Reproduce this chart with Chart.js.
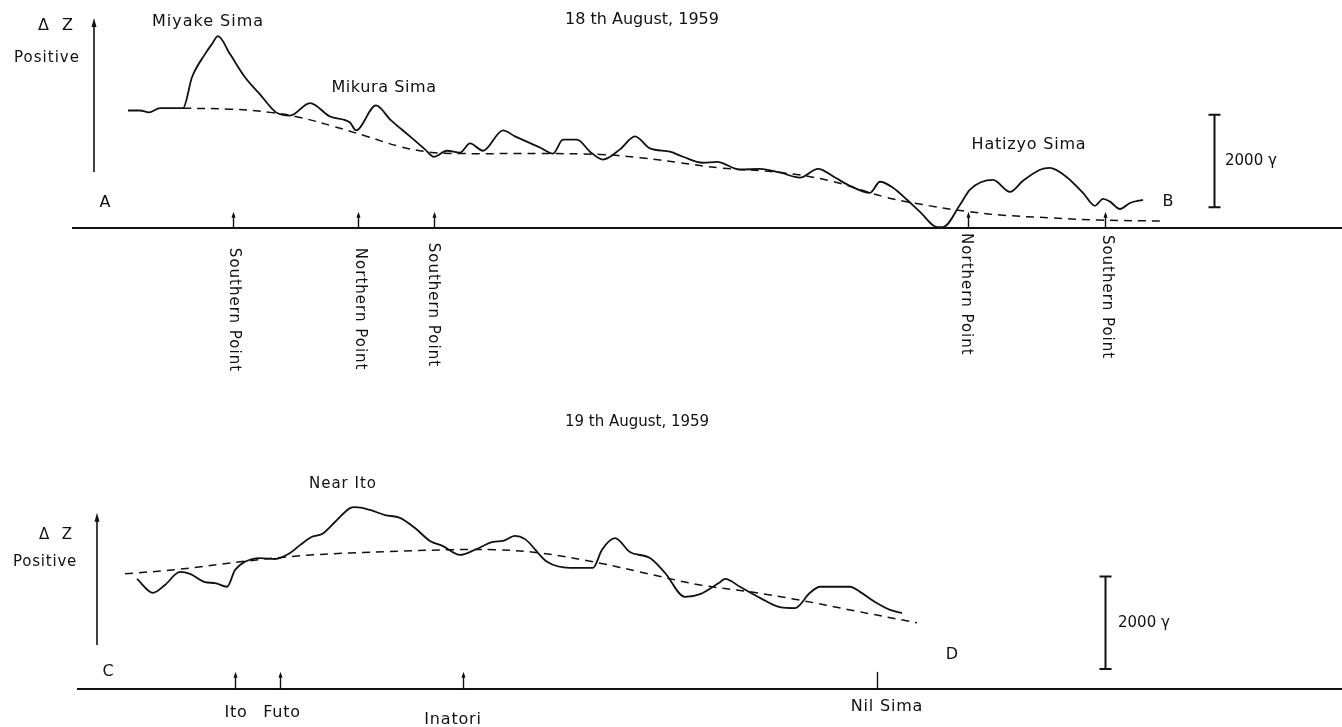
<!DOCTYPE html>
<html>
<head>
<meta charset="utf-8">
<title>ΔZ profiles, August 1959</title>
<script src="https://cdn.jsdelivr.net/npm/chart.js@4.4.1/dist/chart.umd.min.js"></script>
<style>
  html, body { margin: 0; background: #fff; }
  #wrap { position: relative; width: 1342px; height: 727px; overflow: hidden; }
  canvas { position: absolute; left: 0; }
  #perfilAB { top: 0; }
  #perfilCD { top: 400px; }
</style>
</head>
<body>
<div id="wrap">
  <canvas id="perfilAB" width="1342" height="400"></canvas>
  <canvas id="perfilCD" width="1342" height="327"></canvas>
</div>
<script>
// distance along track (arbitrary units), ΔZ in gamma
const DIST_MAX = 134.2;
const INK = '#111';
const FONT = '"DejaVu Sans", sans-serif';

// ---- 18 th August 1959 : A -> B ----
const distAB = [12.8, 14.0, 14.9, 16.0, 18.3, 19.2, 20.5, 21.2, 21.8, 23.0, 24.5, 26.0, 27.6, 29.0, 31.0,
  33.0, 35.0, 35.6, 37.6, 39.0, 41.0, 42.5, 43.4, 44.7, 46.0, 47.0, 48.3, 50.3, 51.5, 54.0, 55.3, 56.3,
  57.7, 59.0, 60.3, 62.0, 63.5, 65.0, 67.0, 68.3, 70.3, 71.7, 74.0, 76.0, 78.0, 80.0, 81.8, 83.5, 85.0,
  87.0, 88.0, 89.3, 90.7, 92.0, 93.7, 94.3, 96.0, 97.0, 99.3, 101.0, 102.3, 104.0, 105.0, 106.5, 108.3,
  109.5, 110.3, 111.0, 112.0, 113.0, 114.3];
const dzAB = [2540, 2540, 2500, 2590, 2590, 3260, 3760, 3980, 4150, 3760, 3260, 2890, 2500, 2430, 2700,
  2410, 2280, 2110, 2650, 2350, 1980, 1700, 1540, 1670, 1630, 1830, 1670, 2110, 1980, 1740, 1610, 1910,
  1910, 1650, 1480, 1700, 1980, 1720, 1650, 1540, 1410, 1430, 1260, 1280, 1200, 1090, 1280, 1090, 910,
  760, 1000, 870, 610, 350, 20, 20, 500, 830, 1040, 780, 1020, 1260, 1300, 1130, 760,
  480, 630, 570, 410, 540, 610];
const trendDistAB = [18.3, 23.0, 27.0, 30.0, 33.3, 36.7, 40.0, 43.0, 46.0, 54.0, 60.0, 64.0, 68.0, 72.0,
  78.0, 83.0, 88.5, 93.5, 97.0, 100.0, 105.0, 110.0, 116.3];
const trendAB = [2590, 2570, 2500, 2390, 2200, 1980, 1760, 1640, 1610, 1610, 1590, 1520, 1410, 1300,
  1200, 1020, 670, 460, 350, 280, 220, 170, 150];
const marksAB = [23.3, 35.8, 43.4, 96.8, 110.5];
const markNamesAB = ['Southern Point', 'Northern Point', 'Southern Point', 'Northern Point', 'Southern Point'];

// ---- 19 th August 1959 : C -> D ----
const distCD = [13.7, 15.3, 16.5, 18.0, 19.0, 20.5, 21.5, 22.7, 23.5, 24.5, 26.0, 27.5, 29.0, 30.0, 31.2,
  32.2, 33.5, 35.0, 35.5, 37.0, 38.5, 40.0, 41.5, 43.0, 44.3, 46.0, 47.5, 49.3, 50.3, 51.5, 52.5, 54.7,
  57.0, 59.3, 60.2, 61.5, 63.0, 65.0, 66.5, 68.5, 70.0, 72.0, 72.5, 74.0, 76.0, 78.0, 79.5, 81.0, 82.0,
  85.0, 86.0, 87.5, 89.0, 90.2];
const dzCD = [2380, 2080, 2250, 2530, 2490, 2310, 2290, 2210, 2570, 2750, 2830, 2810, 2940, 3110, 3290,
  3350, 3610, 3910, 3930, 3870, 3760, 3700, 3480, 3200, 3090, 2900, 3010, 3180, 3200, 3310, 3240, 2750,
  2620, 2620, 3010, 3260, 2960, 2830, 2510, 1990, 2050, 2310, 2380, 2210, 1970, 1770, 1750, 2080, 2210,
  2210, 2100, 1880, 1710, 1640];
const trendDistCD = [12.5, 18.0, 24.0, 30.0, 35.0, 40.0, 45.0, 49.5, 54.0, 60.0, 64.0, 70.0, 75.0, 80.0, 85.0, 91.7];
const trendCD = [2490, 2590, 2750, 2880, 2940, 2980, 3010, 3010, 2940, 2720, 2530, 2250, 2100, 1920, 1710, 1430];
const marksCD = [23.5, 28.0, 46.3, 87.7];
const markNamesCD = ['Ito', 'Futo', 'Inatori', 'Nil Sima'];

const SCALE_GAMMA = 2000;

// labels and furniture for each panel (x in distance units, y in gamma)
const notasAB = {
  axisFrom: 7.2,
  zArrow: { x: 9.4, from: 1210, to: 4540 },
  markTip: 350,
  markHead: [true, true, true, true, true],
  vertical: true,
  markLabelX: [23.4, 36.0, 43.3, 96.6, 110.7],
  markLabelY: [-430, -430, -320, -110, -150],
  scaleBar: { x: 121.4, from: 450 },
  texts: [
    { t: '18 th August, 1959', x: 64.2, y: 4500, size: 16, ls: 0 },
    { t: 'Miyake Sima', x: 20.8, y: 4450, size: 16, ls: 1 },
    { t: 'Mikura Sima', x: 38.4, y: 3030, size: 16, ls: 0.6 },
    { t: 'Hatizyo Sima', x: 102.9, y: 1790, size: 16, ls: 0.8 },
    { t: 'Δ  Z', x: 5.6, y: 4370, size: 16, ls: 1 },
    { t: 'Positive', x: 4.7, y: 3680, size: 15, ls: 1 },
    { t: 'A', x: 10.5, y: 540, size: 16, ls: 0 },
    { t: 'B', x: 116.8, y: 560, size: 16, ls: 0 },
    { t: '2000 γ', x: 122.5, y: 1450, size: 15, ls: 0, align: 'left' }
  ]
};

const notasCD = {
  axisFrom: 7.7,
  zArrow: { x: 9.7, from: 950, to: 3810 },
  markTip: 370,
  markHead: [true, true, true, false],
  vertical: false,
  markLabelX: [23.6, 28.2, 45.3, 88.7],
  markLabelY: [-520, -520, -670, -390],
  scaleBar: { x: 110.5, from: 430 },
  texts: [
    { t: '19 th August, 1959', x: 63.7, y: 5770, size: 15, ls: 0 },
    { t: 'Near Ito', x: 34.3, y: 4430, size: 15, ls: 1 },
    { t: 'Δ  Z', x: 5.6, y: 3330, size: 15, ls: 1 },
    { t: 'Positive', x: 4.5, y: 2750, size: 15, ls: 0.8 },
    { t: 'C', x: 10.8, y: 370, size: 16, ls: 0 },
    { t: 'D', x: 95.2, y: 740, size: 16, ls: 0 },
    { t: '2000 γ', x: 111.8, y: 1430, size: 15, ls: 0, align: 'left' }
  ]
};

function pontos(xs, ys) {
  return xs.map((x, i) => ({ x, y: ys[i] }));
}

function texto(ctx, s, x, y, size, ls, align) {
  ctx.font = size + 'px ' + FONT;
  ctx.letterSpacing = (ls || 0) + 'px';
  ctx.textAlign = align || 'center';
  ctx.textBaseline = 'middle';
  ctx.fillText(s, x, y);
  ctx.letterSpacing = '0px';
}

function setaCima(ctx, x, y0, y1, w, h) {
  ctx.beginPath();
  ctx.moveTo(x, y0);
  ctx.lineTo(x, y1 + h * 0.5);
  ctx.stroke();
  ctx.beginPath();
  ctx.moveTo(x, y1);
  ctx.lineTo(x - w / 2, y1 + h);
  ctx.lineTo(x + w / 2, y1 + h);
  ctx.closePath();
  ctx.fill();
}

// draws the axis line, station arrows, scale bar and the labels
function pluginNotas(cfg, nomes, marcas) {
  return {
    id: 'notas',
    afterDraw(chart) {
      const ctx = chart.ctx;
      const sx = chart.scales.x, sy = chart.scales.y;
      const y0 = sy.getPixelForValue(0);
      ctx.save();
      ctx.strokeStyle = INK;
      ctx.fillStyle = INK;

      // base line
      ctx.lineWidth = 2;
      ctx.beginPath();
      ctx.moveTo(sx.getPixelForValue(cfg.axisFrom), y0);
      ctx.lineTo(sx.getPixelForValue(DIST_MAX), y0);
      ctx.stroke();

      // ΔZ positive arrow
      ctx.lineWidth = 1.6;
      const zx = sx.getPixelForValue(cfg.zArrow.x);
      setaCima(ctx, zx, sy.getPixelForValue(cfg.zArrow.from), sy.getPixelForValue(cfg.zArrow.to), 5, 9);

      // station arrows
      ctx.lineWidth = 1.4;
      const tip = sy.getPixelForValue(cfg.markTip);
      marcas.forEach((m, i) => {
        const px = Math.round(sx.getPixelForValue(m)) + 0.5;
        if (cfg.markHead[i]) {
          setaCima(ctx, px, y0, tip, 4, 6);
        } else {
          ctx.beginPath();
          ctx.moveTo(px, y0);
          ctx.lineTo(px, tip);
          ctx.stroke();
        }
      });

      // station names
      nomes.forEach((n, i) => {
        const px = sx.getPixelForValue(cfg.markLabelX[i]);
        const py = sy.getPixelForValue(cfg.markLabelY[i]);
        if (cfg.vertical) {
          ctx.save();
          ctx.translate(px, py);
          ctx.rotate(Math.PI / 2);
          texto(ctx, n, 0, 0, 15, 1, 'left');
          ctx.restore();
        } else {
          texto(ctx, n, px, py, 16, 0.8);
        }
      });

      // 2000 gamma scale bar
      const bx = Math.round(sx.getPixelForValue(cfg.scaleBar.x)) + 0.5;
      const b0 = sy.getPixelForValue(cfg.scaleBar.from);
      const b1 = sy.getPixelForValue(cfg.scaleBar.from + SCALE_GAMMA);
      ctx.lineWidth = 2;
      ctx.beginPath();
      ctx.moveTo(bx, b0); ctx.lineTo(bx, b1);
      ctx.moveTo(bx - 6, b0); ctx.lineTo(bx + 6, b0);
      ctx.moveTo(bx - 6, b1); ctx.lineTo(bx + 6, b1);
      ctx.stroke();

      cfg.texts.forEach(t => {
        texto(ctx, t.t, sx.getPixelForValue(t.x), sy.getPixelForValue(t.y), t.size, t.ls, t.align);
      });
      ctx.restore();
    }
  };
}

function criarPerfil(id, serie, tendencia, yMin, yMax, cfg, nomes, marcas) {
  return new Chart(document.getElementById(id), {
    type: 'line',
    data: {
      datasets: [
        {
          data: serie,
          borderColor: INK,
          borderWidth: 1.8,
          pointRadius: 0,
          cubicInterpolationMode: 'monotone',
          fill: false
        },
        {
          data: tendencia,
          borderColor: INK,
          borderWidth: 1.5,
          borderDash: [8, 6],
          pointRadius: 0,
          tension: 0.4,
          fill: false
        }
      ]
    },
    options: {
      responsive: false,
      animation: false,
      devicePixelRatio: 1,
      layout: { padding: 0 },
      plugins: { legend: { display: false }, tooltip: { enabled: false } },
      scales: {
        x: { type: 'linear', display: false, min: 0, max: DIST_MAX },
        y: { type: 'linear', display: false, min: yMin, max: yMax }
      }
    },
    plugins: [pluginNotas(cfg, nomes, marcas)]
  });
}

criarPerfil('perfilAB', pontos(distAB, dzAB), pontos(trendDistAB, trendAB), -3720, 4930, notasAB, markNamesAB, marksAB);
criarPerfil('perfilCD', pontos(distCD, dzCD), pontos(trendDistCD, trendCD), -822, 6248, notasCD, markNamesCD, marksCD);
</script>
</body>
</html>
